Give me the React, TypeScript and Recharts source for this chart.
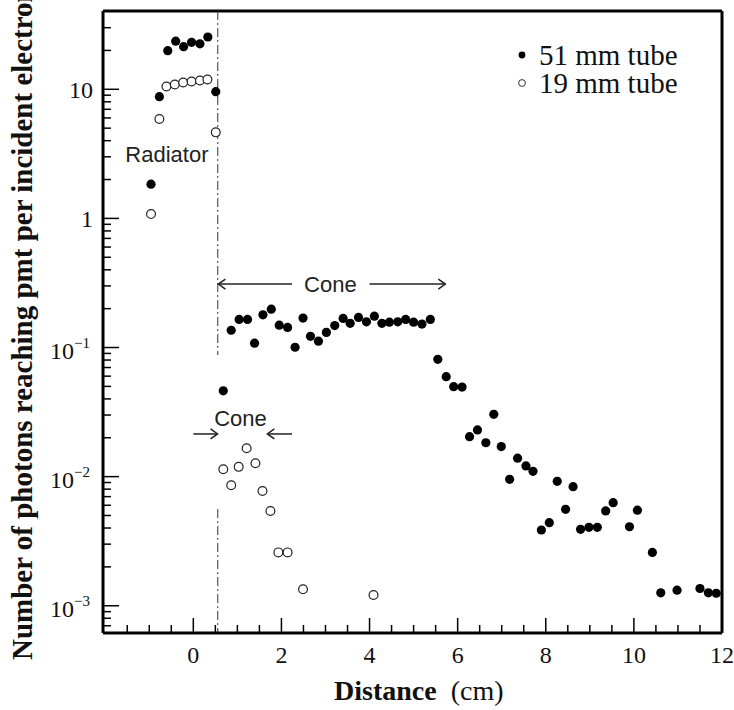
import {
  ScatterChart,
  Scatter,
  XAxis,
  YAxis,
  ReferenceLine,
  ReferenceDot,
  Legend,
} from "recharts"

const SERIF = '"Liberation Serif", "Times New Roman", serif'
const SANS = '"Liberation Sans", Arial, sans-serif'

// ─── data ────────────────────────────────────────────────────────────────────

const TUBE51_X = [
  -0.96, -0.77, -0.58, -0.4, -0.22, -0.04, 0.15, 0.33, 0.51, 0.68,
  0.86, 1.04, 1.23, 1.39, 1.58, 1.77, 1.95, 2.14, 2.31, 2.49,
  2.66, 2.84, 3.02, 3.21, 3.4, 3.56, 3.75, 3.93, 4.11, 4.28,
  4.45, 4.64, 4.82, 5.0, 5.19, 5.38, 5.55, 5.74, 5.91, 6.1,
  6.27, 6.45, 6.64, 6.82, 6.99, 7.18, 7.36, 7.55, 7.71, 7.9,
  8.08, 8.26, 8.45, 8.62, 8.79, 8.98, 9.17, 9.36, 9.53, 9.9,
  10.08, 10.42, 10.61, 10.98, 11.5, 11.69, 11.87,
]
const TUBE51_Y = [
  1.84, 8.77, 19.9, 23.6, 21.4, 23.1, 22.5, 25.4, 9.58, 0.0462,
  0.136, 0.165, 0.165, 0.108, 0.179, 0.198, 0.149, 0.143, 0.1005, 0.169,
  0.122, 0.112, 0.131, 0.148, 0.168, 0.154, 0.171, 0.158, 0.175, 0.154,
  0.157, 0.158, 0.165, 0.157, 0.152, 0.165, 0.081, 0.0594, 0.0497, 0.0494,
  0.0204, 0.023, 0.0183, 0.0304, 0.0171, 0.00953, 0.0139, 0.0121, 0.011, 0.00386,
  0.0044, 0.0092, 0.00558, 0.00836, 0.00391, 0.00405, 0.00405, 0.00542, 0.00628, 0.00409,
  0.0055, 0.00259, 0.00126, 0.00132, 0.00136, 0.00126, 0.00125,
]

const TUBE19_X = [
  -0.96, -0.77, -0.61, -0.42, -0.23, -0.04, 0.15, 0.32, 0.51, 0.68,
  0.86, 1.03, 1.21, 1.41, 1.57, 1.75, 1.93, 2.14, 2.49, 4.09,
]
const TUBE19_Y = [
  1.08, 5.89, 10.5, 10.9, 11.3, 11.5, 11.7, 11.9, 4.64, 0.0114,
  0.00857, 0.0119, 0.0166, 0.0127, 0.00774, 0.00542, 0.00259, 0.00259, 0.00134, 0.00121,
]

const SERIES_NAMES = ["51 mm tube", "19 mm tube"]

const X_DOMAIN = [-2.05, 12]
const Y_DOMAIN = [6.15e-4, 40.4]
const X_TICKS = Array.from({ length: 28 }, (_, i) => -1.5 + i * 0.5)
const X_MAJOR = [0, 2, 4, 6, 8, 10, 12]
const Y_DECADES = [-4, -3, -2, -1, 0, 1]
const Y_TICKS = Y_DECADES.flatMap((e) =>
  [1, 2, 3, 4, 5, 6, 7, 8, 9].map((m) => Number((m * Math.pow(10, e)).toPrecision(3)))
).filter((v) => v >= Y_DOMAIN[0] && v <= 30)

// annotation anchors (data coordinates)
const RADIATOR_LINE = 0.555
const CONE_WIDE = { y: 0.31, left: [2.24, 0.57], right: [4.0, 5.72], label: 3.11 }
const CONE_NARROW = { y: 0.0214, left: [0.0, 0.55], right: [2.24, 1.68], label: 1.07, labelY: 0.0284 }

const toPoints = (xs: number[], ys: number[]) => xs.map((x, i) => ({ x, y: ys[i] }))
const tube51 = toPoints(TUBE51_X, TUBE51_Y)
const tube19 = toPoints(TUBE19_X, TUBE19_Y)

// ─── ticks ───────────────────────────────────────────────────────────────────

// eslint-disable-next-line @typescript-eslint/no-explicit-any
const XTick = (props: any) => {
  const { x, y, payload } = props
  const v = payload.value
  const major = X_MAJOR.some((m) => Math.abs(m - v) < 1e-6)
  return (
    <g>
      <line x1={x} y1={y} x2={x} y2={y - (major ? 15 : 8)} stroke="#000" strokeWidth={1.5} />
      {major && (
        <text x={x} y={y + 30} textAnchor="middle" fontFamily={SERIF} fontSize={24} fill="#111">
          {v}
        </text>
      )}
    </g>
  )
}

// eslint-disable-next-line @typescript-eslint/no-explicit-any
const YTick = (props: any) => {
  const { x, y, payload } = props
  const v = payload.value
  const e = Math.round(Math.log10(v))
  const major = Math.abs(v / Math.pow(10, e) - 1) < 1e-6
  let label = null
  if (major) {
    if (e >= 0) {
      label = (
        <text x={x - 10} y={y + 9} textAnchor="end" fontFamily={SERIF} fontSize={24} fill="#111">
          {Math.pow(10, e)}
        </text>
      )
    } else {
      label = (
        <text x={x - 13} y={y + 11} textAnchor="end" fontFamily={SERIF} fontSize={24} fill="#111">
          <tspan>10</tspan>
          <tspan dy={-11} fontSize={15}>{`\u2212${-e}`}</tspan>
        </text>
      )
    }
  }
  return (
    <g>
      <line x1={x} y1={y} x2={x + (major ? 16 : 8)} y2={y} stroke="#000" strokeWidth={1.5} />
      {label}
    </g>
  )
}

// ─── annotations ─────────────────────────────────────────────────────────────

// eslint-disable-next-line @typescript-eslint/no-explicit-any
const Arrow = (props: any) => {
  const { x1, y1, x2, y2 } = props
  const dir = Math.sign(x2 - x1) || 1
  return (
    <g stroke="#222" strokeWidth={1.5} fill="none">
      <line x1={x1} y1={y1} x2={x2} y2={y2} />
      <polyline points={`${x2 - dir * 7},${y2 - 5} ${x2},${y2} ${x2 - dir * 7},${y2 + 5}`} />
    </g>
  )
}

const textShape = (text: string, anchor: "start" | "middle" = "middle") =>
  // eslint-disable-next-line @typescript-eslint/no-explicit-any
  (props: any) => (
    <text x={props.cx} y={props.cy + 8} textAnchor={anchor} fontFamily={SANS} fontSize={22} fill="#222">
      {text}
    </text>
  )

// eslint-disable-next-line @typescript-eslint/no-explicit-any
const filledDot = (props: any) => <circle cx={props.cx} cy={props.cy} r={4.6} fill="#000" />
// eslint-disable-next-line @typescript-eslint/no-explicit-any
const openDot = (props: any) => (
  <circle cx={props.cx} cy={props.cy} r={4.4} fill="#fff" stroke="#222" strokeWidth={1.2} />
)

const renderLegend = () => (
  <div style={{ fontFamily: SERIF, fontSize: 29, color: "#111", lineHeight: "28px" }}>
    {SERIES_NAMES.map((name, i) => (
      <div key={name} style={{ display: "flex", alignItems: "center", height: 28 }}>
        <svg width={16} height={16} style={{ marginRight: 9 }}>
          {i === 0 ? (
            <circle cx={8} cy={8} r={3.4} fill="#000" />
          ) : (
            <circle cx={8} cy={8} r={3.4} fill="#fff" stroke="#333" strokeWidth={1} />
          )}
        </svg>
        <span>{name}</span>
      </div>
    ))}
  </div>
)

const frameLine = { stroke: "#000", strokeWidth: 3, ifOverflow: "visible" as const }

export default function App() {
  return (
    <div style={{ position: "absolute", left: 0, top: 0, width: 734, height: 710, background: "#fff" }}>
      <ScatterChart width={734} height={710} margin={{ top: 11, right: 12, bottom: 0, left: 0 }}>
        <XAxis
          dataKey="x"
          type="number"
          domain={X_DOMAIN}
          allowDataOverflow
          ticks={X_TICKS}
          interval={0}
          tickSize={0}
          tickMargin={0}
          tick={XTick}
          tickLine={false}
          axisLine={{ stroke: "#000", strokeWidth: 3 }}
          height={77}
        />
        <YAxis
          dataKey="y"
          type="number"
          scale="log"
          domain={Y_DOMAIN}
          allowDataOverflow
          ticks={Y_TICKS}
          interval={0}
          tickSize={0}
          tickMargin={0}
          tick={YTick}
          tickLine={false}
          axisLine={{ stroke: "#000", strokeWidth: 3 }}
          width={103}
        />

        {/* top and right frame */}
        <ReferenceLine y={Y_DOMAIN[1]} {...frameLine} />
        <ReferenceLine x={X_DOMAIN[1]} {...frameLine} />

        {/* radiator boundary (dash-dot) */}
        <ReferenceLine
          segment={[{ x: RADIATOR_LINE, y: Y_DOMAIN[1] }, { x: RADIATOR_LINE, y: 0.0875 }]}
          stroke="#333"
          strokeWidth={1}
          strokeDasharray="9 3 2 3"
        />
        <ReferenceLine
          segment={[{ x: RADIATOR_LINE, y: 0.00561 }, { x: RADIATOR_LINE, y: Y_DOMAIN[0] }]}
          stroke="#333"
          strokeWidth={1}
          strokeDasharray="9 3 2 3"
        />

        {/* cone arrows */}
        <ReferenceLine segment={[{ x: CONE_WIDE.left[0], y: CONE_WIDE.y }, { x: CONE_WIDE.left[1], y: CONE_WIDE.y }]} shape={Arrow} />
        <ReferenceLine segment={[{ x: CONE_WIDE.right[0], y: CONE_WIDE.y }, { x: CONE_WIDE.right[1], y: CONE_WIDE.y }]} shape={Arrow} />
        <ReferenceLine segment={[{ x: CONE_NARROW.left[0], y: CONE_NARROW.y }, { x: CONE_NARROW.left[1], y: CONE_NARROW.y }]} shape={Arrow} />
        <ReferenceLine segment={[{ x: CONE_NARROW.right[0], y: CONE_NARROW.y }, { x: CONE_NARROW.right[1], y: CONE_NARROW.y }]} shape={Arrow} />

        <ReferenceDot x={CONE_WIDE.label} y={CONE_WIDE.y} r={0} shape={textShape("Cone")} />
        <ReferenceDot x={CONE_NARROW.label} y={CONE_NARROW.labelY} r={0} shape={textShape("Cone")} />
        <ReferenceDot x={-0.6} y={3.16} r={0} shape={textShape("Radiator")} />

        <Scatter name={SERIES_NAMES[0]} data={tube51} shape={filledDot} isAnimationActive={false} />
        <Scatter name={SERIES_NAMES[1]} data={tube19} shape={openDot} isAnimationActive={false} />

        <Legend
          layout="vertical"
          align="center"
          verticalAlign="middle"
          content={renderLegend}
          wrapperStyle={{ position: "absolute", left: 514, top: 41, width: 200 }}
        />
      </ScatterChart>

      <div
        style={{
          position: "absolute",
          left: 334,
          top: 675,
          fontFamily: SERIF,
          fontSize: 28,
          color: "#111",
          whiteSpace: "nowrap",
        }}
      >
        <b>Distance</b>
        <span style={{ marginLeft: 14 }}>(cm)</span>
      </div>
      <svg width={40} height={710} style={{ position: "absolute", left: 0, top: 0 }}>
        <text
          transform="translate(32,660) rotate(-90)"
          fontFamily={SERIF}
          fontWeight="bold"
          fontSize={29}
          fill="#111"
        >
          Number of photons reaching pmt per incident electron
        </text>
      </svg>
    </div>
  )
}
